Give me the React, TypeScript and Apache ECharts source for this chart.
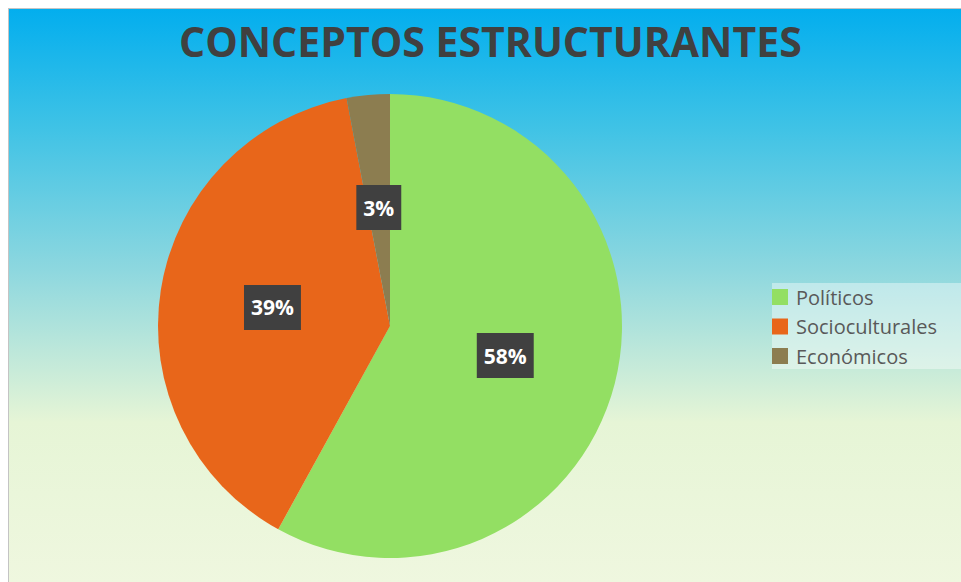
import React, { useEffect, useRef } from "react";
import * as echarts from "echarts";

const titleText = "CONCEPTOS ESTRUCTURANTES";
const categories = ["Políticos", "Socioculturales", "Económicos"];
const values = [58, 39, 3];
const colors = ["#93DF63", "#E8661A", "#8C7D50"];

export default function App() {
  const ref = useRef<HTMLDivElement>(null);
  useEffect(() => {
    const chart = echarts.init(ref.current!, undefined, { renderer: "svg" });
    chart.setOption({
      animation: false,
      backgroundColor: new echarts.graphic.LinearGradient(0, 0, 0, 1, [
        { offset: 0, color: "#03AEEE" },
        { offset: 0.2, color: "#3DC2E6" },
        { offset: 0.45, color: "#8CD7DF" },
        { offset: 0.72, color: "#E6F5D6" },
        { offset: 1, color: "#EFF7DF" },
      ]),
      title: {
        text: titleText,
        left: 165,
        top: 6,
        textStyle: {
          fontFamily: "Open Sans",
          fontWeight: "bold",
          fontSize: 41,
          color: "#404040",
        },
      },
      graphic: [
        {
          type: "rect",
          shape: { x: 763, y: 274, width: 200, height: 86 },
          style: { fill: "rgba(255,255,255,0.4)" },
          silent: true,
          z: 0,
        },
      ],
      legend: {
        orient: "vertical",
        left: 763,
        top: 278,
        padding: 0,
        itemWidth: 16,
        itemHeight: 16,
        itemGap: 9.5,
        icon: "rect",
        data: categories,
        textStyle: {
          fontFamily: "Open Sans",
          fontSize: 20,
          lineHeight: 20,
          color: "#595959",
          padding: [0, 0, 0, 3],
        },
        z: 5,
      },
      series: [
        {
          type: "pie",
          center: [381, 317],
          radius: 232,
          startAngle: 90,
          clockwise: true,
          percentPrecision: 0,
          color: colors,
          data: categories.map((c, i) => ({ name: c, value: values[i] })),
          label: {
            show: true,
            position: "inside",
            formatter: "{d}%",
            fontFamily: "Open Sans",
            fontWeight: "bold",
            fontSize: 21,
            lineHeight: 25,
            color: "#ffffff",
            backgroundColor: "#404040",
            padding: [10, 7],
          },
          labelLine: { show: false },
          emphasis: { disabled: true },
        },
      ],
    });
    return () => chart.dispose();
  }, []);
  return (
    <div
      style={{
        position: "fixed",
        left: 8,
        top: 8,
        borderLeft: "1px solid #C4C4C4",
        borderTop: "1px solid #C4C4C4",
        width: 953,
        height: 574,
        overflow: "hidden",
      }}
    >
      <div ref={ref} style={{ width: 953, height: 574 }} />
    </div>
  );
}
